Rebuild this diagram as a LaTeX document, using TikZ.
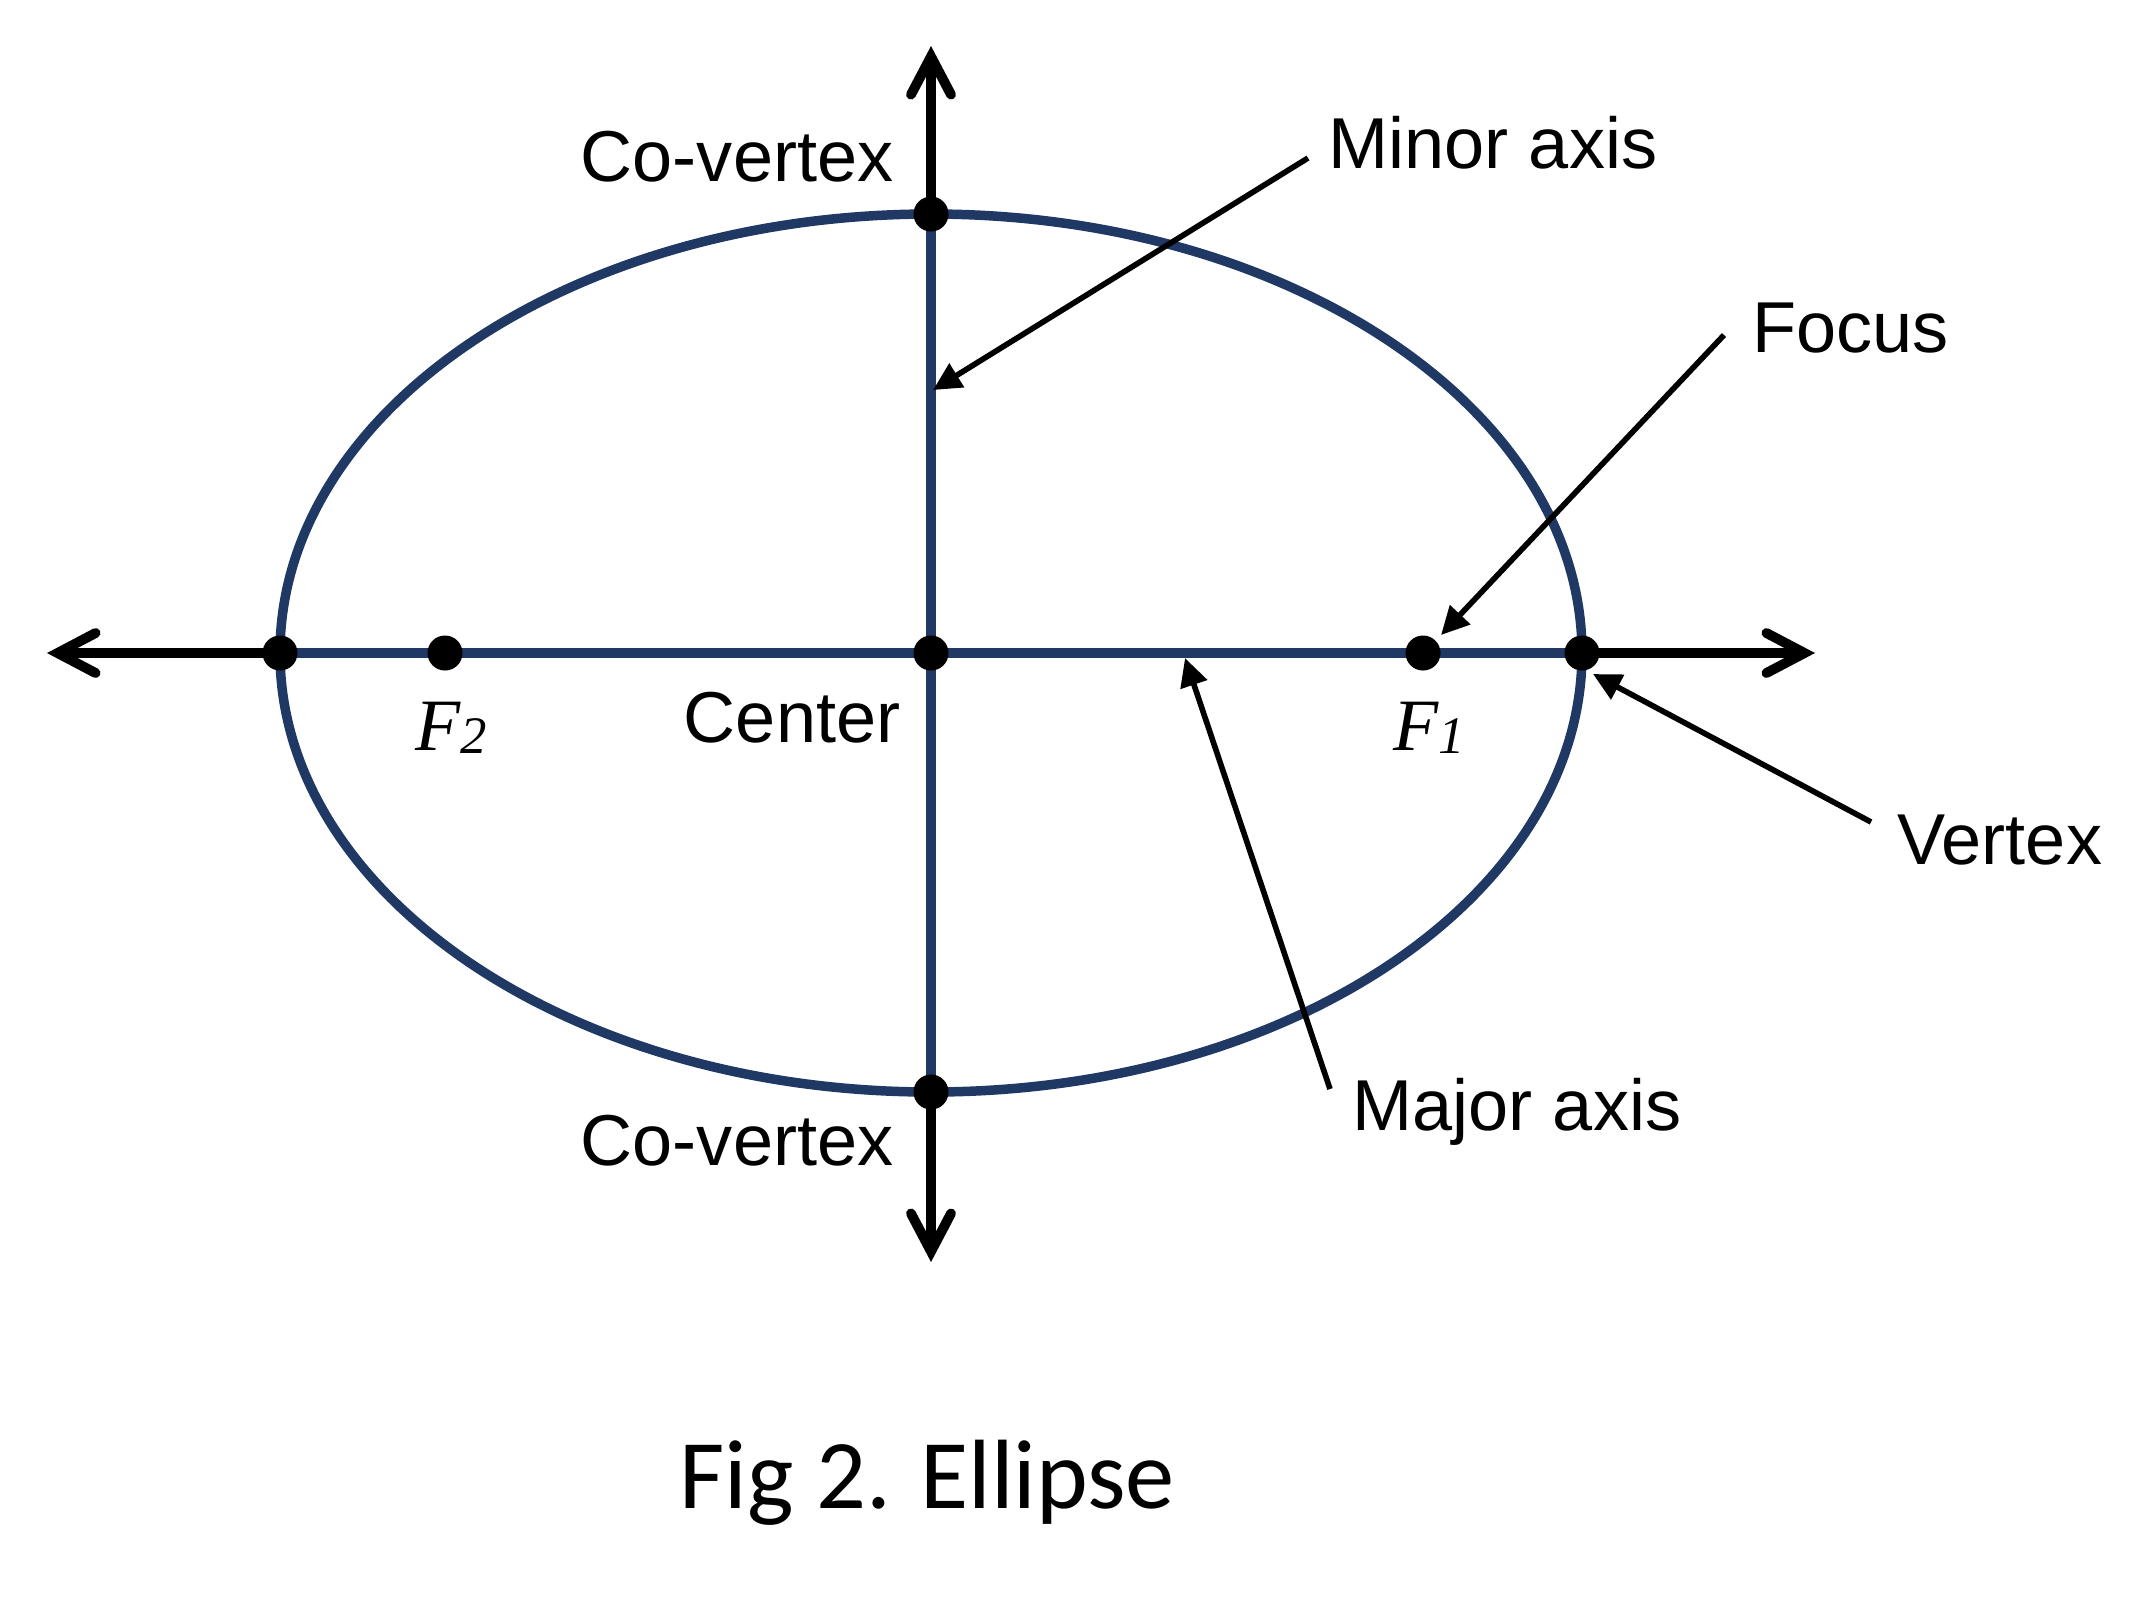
\documentclass[tikz,border=0pt]{standalone}
\usepackage{fontspec}
\setmainfont{Liberation Sans}
\newfontfamily\capfont{Carlito}
\newfontfamily\focfont{Liberation Serif}
\usetikzlibrary{arrows.meta}
\definecolor{ellblue}{RGB}{32,56,100}
\newcommand{\foc}[1]{{\focfont\itshape\fontsize{21}{25}\selectfont F\raisebox{-1pt}{\fontsize{15}{18}\selectfont #1}}}
\begin{document}
\begin{tikzpicture}[x=0.01cm,y=-0.01cm,
    curve/.style={ellblue, line width=2.7pt},
    axisarrow/.style={line width=2.8pt, line cap=round, -{Straight Barb[length=3.8mm,width=4mm,line cap=round]}},
    pointer/.style={line width=1.6pt, -{Triangle[length=2.8mm,width=2.7mm]}},
    dot/.style={circle, fill=black, inner sep=0pt, minimum size=3.5mm},
    lbl/.style={inner sep=0pt, font=\fontsize{20.5}{24}\selectfont}]
  \useasboundingbox (0,0) rectangle (2149,1596);
  % points of the ellipse
  \coordinate (c) at (931,653);
  \coordinate (vL) at (280,653);
  \coordinate (vR) at (1582,653);
  \coordinate (cvT) at (931,214);
  \coordinate (cvB) at (931,1092);
  \coordinate (f2) at (445,653);
  \coordinate (f1) at (1423,653);
  \coordinate (tipL) at (47,653);
  \coordinate (tipR) at (1815,653);
  \coordinate (tipT) at (931,46);
  \coordinate (tipB) at (931,1262);
  \draw[curve] (c) ellipse [x radius=651, y radius=439];
  \draw[curve] (vL) -- (vR);
  \draw[curve] (cvT) -- (cvB);
  \draw[axisarrow] (vL) -- (tipL);
  \draw[axisarrow] (vR) -- (tipR);
  \draw[axisarrow] (cvT) -- (tipT);
  \draw[axisarrow] (cvB) -- (tipB);
  \foreach \p in {c,vL,vR,cvT,cvB,f1,f2}
    \node[dot] (d\p) at (\p) {};
  % labels
  \node[lbl, anchor=base east] (cvTlbl) at (894,181) {Co-vertex};
  \node[lbl, anchor=base east] (cvBlbl) at (894,1165) {Co-vertex};
  \node[lbl, anchor=base east] (ctrlbl) at (901,742) {Center};
  \node[inner sep=0pt, anchor=base west] (f2lbl) at (415,750) {\foc{2}};
  \node[inner sep=0pt, anchor=base west] (f1lbl) at (1393,750) {\foc{1}};
  \node[lbl, anchor=base west] (minorlbl) at (1328,168) {Minor axis};
  \node[lbl, anchor=base west] (foclbl) at (1752,352) {Focus};
  \node[lbl, anchor=base west] (vertlbl) at (1897,864) {Vertex};
  \node[lbl, anchor=base west] (majorlbl) at (1352,1130) {Major axis};
  % pointers
  \coordinate (minorA) at (1308,158);
  \coordinate (minorB) at (933,390);
  \coordinate (focA) at (1724,335);
  \coordinate (focB) at (1441,635);
  \coordinate (vertA) at (1871,822);
  \coordinate (vertB) at (1593,674);
  \coordinate (majorA) at (1330,1089);
  \coordinate (majorB) at (1185,658);
  \draw[pointer] (minorA) -- (minorB);
  \draw[pointer] (focA) -- (focB);
  \draw[pointer] (vertA) -- (vertB);
  \draw[pointer] (majorA) -- (majorB);
  \node[inner sep=0pt, anchor=base west, font=\capfont\fontsize{28}{34}\selectfont] (caption) at (679,1508) {Fig 2. Ellipse};
\end{tikzpicture}
\end{document}
